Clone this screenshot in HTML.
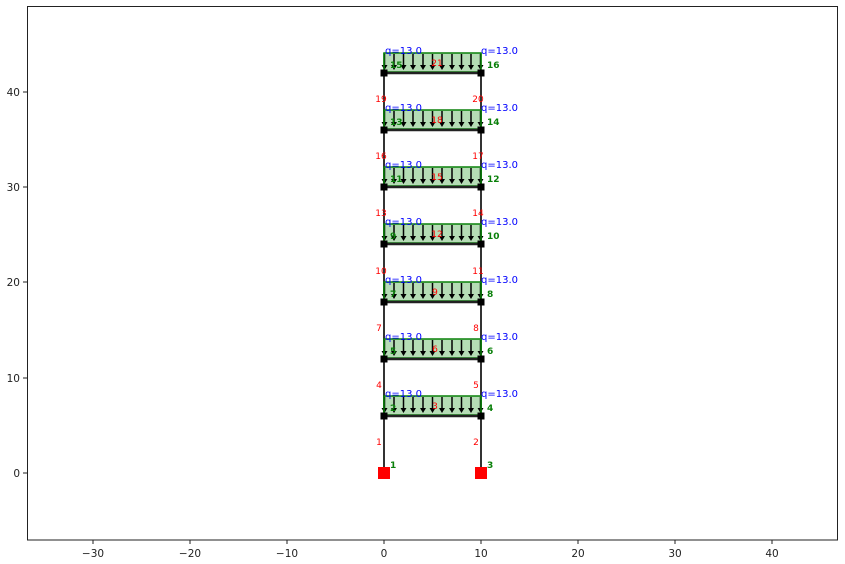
<!DOCTYPE html>
<html><head><meta charset="utf-8"><style>
html,body{margin:0;padding:0;background:#fff;}
svg{display:block;font-family:"DejaVu Sans","Liberation Sans",sans-serif;}
</style></head><body>
<svg width="845" height="564" viewBox="0 0 845 564" xmlns="http://www.w3.org/2000/svg">
<defs>
<g id="fl">
<rect x="384" y="-20" width="97" height="19" fill="#b5dcb5" stroke="#0a800a" stroke-width="1.5"/>
<g stroke="#000" stroke-width="1.5">
<line x1="384.5" y1="-19" x2="384.5" y2="-7"/>
<line x1="394" y1="-19" x2="394" y2="-7"/>
<line x1="403.5" y1="-19" x2="403.5" y2="-7"/>
<line x1="413" y1="-19" x2="413" y2="-7"/>
<line x1="423" y1="-19" x2="423" y2="-7"/>
<line x1="432.5" y1="-19" x2="432.5" y2="-7"/>
<line x1="442" y1="-19" x2="442" y2="-7"/>
<line x1="452" y1="-19" x2="452" y2="-7"/>
<line x1="461.5" y1="-19" x2="461.5" y2="-7"/>
<line x1="471" y1="-19" x2="471" y2="-7"/>
<line x1="480.5" y1="-19" x2="480.5" y2="-7"/>
</g>
<g fill="#000">
<path d="M381.5,-8 h6 l-3,5z"/><path d="M391,-8 h6 l-3,5z"/><path d="M400.5,-8 h6 l-3,5z"/>
<path d="M410,-8 h6 l-3,5z"/><path d="M420,-8 h6 l-3,5z"/><path d="M429.5,-8 h6 l-3,5z"/>
<path d="M439,-8 h6 l-3,5z"/><path d="M449,-8 h6 l-3,5z"/><path d="M458.5,-8 h6 l-3,5z"/>
<path d="M468,-8 h6 l-3,5z"/><path d="M477.5,-8 h6 l-3,5z"/>
</g>
<line x1="384" y1="-20" x2="384" y2="0" stroke="#0a800a" stroke-width="1.5"/>
<line x1="481" y1="-20" x2="481" y2="0" stroke="#0a800a" stroke-width="1.5"/>
<line x1="384" y1="0" x2="481" y2="0" stroke="#222" stroke-width="2.5"/>
<rect x="380.5" y="-3.5" width="7" height="7" fill="#000"/>
<rect x="477.5" y="-3.5" width="7" height="7" fill="#000"/>
</g>
</defs>
<line x1="384" y1="473" x2="384" y2="73" stroke="#333" stroke-width="2"/>
<line x1="481" y1="473" x2="481" y2="73" stroke="#333" stroke-width="2"/>
<use href="#fl" transform="translate(0,416)"/>
<use href="#fl" transform="translate(0,359)"/>
<use href="#fl" transform="translate(0,302)"/>
<use href="#fl" transform="translate(0,244)"/>
<use href="#fl" transform="translate(0,187)"/>
<use href="#fl" transform="translate(0,130)"/>
<use href="#fl" transform="translate(0,73)"/>
<rect x="378" y="467" width="12" height="12" fill="#f00"/>
<rect x="475" y="467" width="12" height="12" fill="#f00"/>
<g fill="#0000ff" font-size="10">
<text x="385" y="397">q=13.0</text><text x="481" y="397">q=13.0</text>
<text x="385" y="340">q=13.0</text><text x="481" y="340">q=13.0</text>
<text x="385" y="283">q=13.0</text><text x="481" y="283">q=13.0</text>
<text x="385" y="225">q=13.0</text><text x="481" y="225">q=13.0</text>
<text x="385" y="168">q=13.0</text><text x="481" y="168">q=13.0</text>
<text x="385" y="111">q=13.0</text><text x="481" y="111">q=13.0</text>
<text x="385" y="54">q=13.0</text><text x="481" y="54">q=13.0</text>
</g>
<g fill="#f00" font-size="9" text-anchor="middle">
<text x="379" y="445">1</text><text x="476" y="445">2</text><text x="435" y="409">3</text>
<text x="379" y="388">4</text><text x="476" y="388">5</text><text x="435" y="352">6</text>
<text x="379" y="331">7</text><text x="476" y="331">8</text><text x="435" y="295">9</text>
<text x="381" y="274">10</text><text x="478" y="274">11</text><text x="437" y="237">12</text>
<text x="381" y="216">13</text><text x="478" y="216">14</text><text x="437" y="180">15</text>
<text x="381" y="159">16</text><text x="478" y="159">17</text><text x="437" y="123">18</text>
<text x="381" y="102">19</text><text x="478" y="102">20</text><text x="437" y="66">21</text>
</g>
<g fill="#0a800a" font-size="9" font-weight="bold">
<text x="390" y="468">1</text><text x="487" y="468">3</text>
<text x="390" y="411">2</text><text x="487" y="411">4</text>
<text x="390" y="354">5</text><text x="487" y="354">6</text>
<text x="390" y="297">7</text><text x="487" y="297">8</text>
<text x="390" y="239">9</text><text x="487" y="239">10</text>
<text x="390" y="182">11</text><text x="487" y="182">12</text>
<text x="390" y="125">13</text><text x="487" y="125">14</text>
<text x="390" y="68">15</text><text x="487" y="68">16</text>
</g>
<rect x="27.5" y="6.5" width="810" height="533.5" fill="none" stroke="#222" stroke-width="1"/>
<g stroke="#222" stroke-width="1">
<line x1="93" y1="540" x2="93" y2="544"/><line x1="190" y1="540" x2="190" y2="544"/>
<line x1="287" y1="540" x2="287" y2="544"/><line x1="384" y1="540" x2="384" y2="544"/>
<line x1="481" y1="540" x2="481" y2="544"/><line x1="578" y1="540" x2="578" y2="544"/>
<line x1="675" y1="540" x2="675" y2="544"/><line x1="772" y1="540" x2="772" y2="544"/>
<line x1="23" y1="473" x2="27.5" y2="473"/><line x1="23" y1="378" x2="27.5" y2="378"/>
<line x1="23" y1="282" x2="27.5" y2="282"/><line x1="23" y1="187" x2="27.5" y2="187"/>
<line x1="23" y1="92" x2="27.5" y2="92"/>
</g>
<g fill="#222" font-size="10.5" text-anchor="middle">
<text x="93" y="557">−30</text><text x="190" y="557">−20</text><text x="287" y="557">−10</text>
<text x="384" y="557">0</text><text x="481" y="557">10</text><text x="578" y="557">20</text>
<text x="675" y="557">30</text><text x="772" y="557">40</text>
</g>
<g fill="#222" font-size="10.5" text-anchor="end">
<text x="20" y="477">0</text><text x="20" y="382">10</text><text x="20" y="286">20</text>
<text x="20" y="191">30</text><text x="20" y="96">40</text>
</g>
</svg>
</body></html>
